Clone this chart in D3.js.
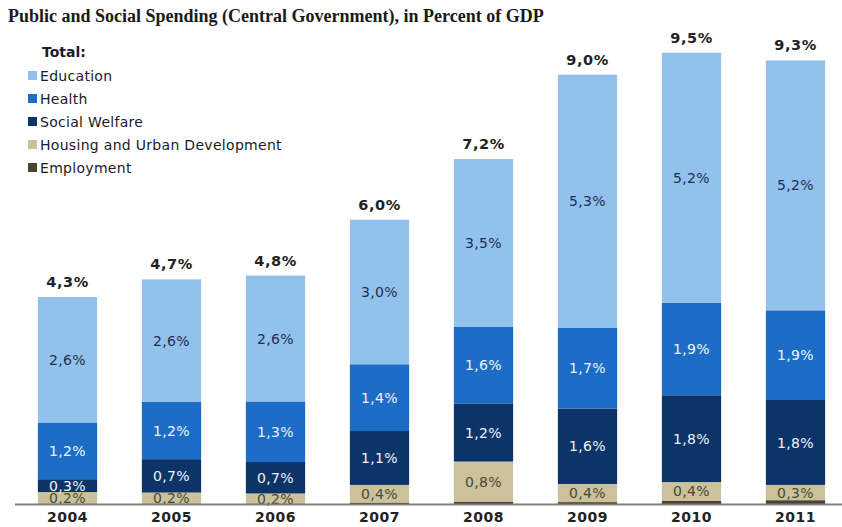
<!DOCTYPE html>
<html><head><meta charset="utf-8">
<script src="https://cdn.jsdelivr.net/npm/d3@7"></script>
<style>body{margin:0;background:#fff}svg{display:block}</style>
</head><body>
<svg id="c" width="842" height="527"></svg>
<script>
const years = ["2004","2005","2006","2007","2008","2009","2010","2011"];
const employment = [0.01, 0.01, 0.01, 0.03, 0.05, 0.04, 0.07, 0.08];
const housing    = [0.24, 0.23, 0.21, 0.37, 0.84, 0.38, 0.39, 0.32];
const welfare    = [0.27, 0.70, 0.66, 1.13, 1.21, 1.58, 1.82, 1.78];
const health     = [1.19, 1.20, 1.27, 1.40, 1.62, 1.69, 1.94, 1.88];
const education  = [2.63, 2.57, 2.64, 3.03, 3.51, 5.31, 5.24, 5.24];
const seriesNames = ["Employment","Housing and Urban Development","Social Welfare","Health","Education"];
const legendOrder = ["Education","Health","Social Welfare","Housing and Urban Development","Employment"];
const colors = {"Employment":"#4a4530","Housing and Urban Development":"#cbc19b","Social Welfare":"#0d3468","Health":"#1d6dc6","Education":"#92c1ee"};
const labelColors = {"Employment":"none","Housing and Urban Development":"#4a4a35","Social Welfare":"#eef3fb","Health":"#eef3fb","Education":"#22304f"};

const rows = years.map((y,i)=>({year:y,"Employment":employment[i],"Housing and Urban Development":housing[i],"Social Welfare":welfare[i],"Health":health[i],"Education":education[i]}));
const stacked = d3.stack().keys(seriesNames)(rows);

const svg = d3.select("#c");
const x = d3.scaleBand().domain(years).range([15.5,847.5]).paddingInner(0.43).paddingOuter(0.215);
const y = d3.scaleLinear().domain([0,10]).range([504,27]);
const fmt = v => d3.format(".1f")(v).replace(".",",")+"%";
const font = "'DejaVu Sans', Verdana, sans-serif";

svg.append("text").attr("x",8).attr("y",22)
  .attr("font-family","'Liberation Serif','Times New Roman',serif").attr("font-weight","bold")
  .attr("font-size",18).attr("fill","#1a1a1a")
  .text("Public and Social Spending (Central Government), in Percent of GDP");

const g = svg.append("g");
stacked.forEach(s=>{
  const key = s.key;
  g.selectAll(null).data(s).enter().append("rect")
    .attr("x",d=>x(d.data.year)).attr("width",x.bandwidth())
    .attr("y",d=>y(d[1])).attr("height",d=>y(d[0])-y(d[1]))
    .attr("fill",colors[key]);
});
stacked.forEach(s=>{
  const key = s.key;
  if(key!=="Employment"){
    g.selectAll(null).data(s).enter().append("text")
      .attr("x",d=>x(d.data.year)+x.bandwidth()/2)
      .attr("y",d=>(y(d[0])+y(d[1]))/2)
      .attr("dy","0.36em").attr("text-anchor","middle")
      .attr("font-family",font).attr("font-size",14).attr("letter-spacing",0.4)
      .attr("fill",labelColors[key])
      .text(d=>fmt(d[1]-d[0]));
  }
});

// totals
const topSeries = stacked[stacked.length-1];
g.selectAll(null).data(topSeries).enter().append("text")
  .attr("x",d=>x(d.data.year)+x.bandwidth()/2)
  .attr("y",d=>y(d[1])-10)
  .attr("text-anchor","middle").attr("font-family",font).attr("font-weight","bold")
  .attr("font-size",14.5).attr("letter-spacing",0.6).attr("fill","#222")
  .text(d=>fmt(d[1]));

// axis
const axis = svg.append("g").attr("transform","translate(0,504.5)")
  .call(d3.axisBottom(x).tickSize(0).tickPadding(8));
axis.select(".domain").attr("d","M15,0H842").attr("stroke","#7f7f7f").attr("stroke-width",2);
axis.selectAll("text").attr("font-family",font).attr("font-weight","bold").attr("font-size",14)
  .attr("letter-spacing",0.5).attr("fill","#222");

// legend
const lg = svg.append("g");
lg.append("text").attr("x",42).attr("y",57).attr("font-family",font).attr("font-weight","bold")
  .attr("font-size",14).attr("fill","#1a1a2a").text("Total:");
legendOrder.forEach((k,i)=>{
  const cy = 75.5 + i*23;
  lg.append("rect").attr("x",28).attr("y",cy-4.5).attr("width",9).attr("height",9).attr("fill",colors[k]);
  lg.append("text").attr("x",40).attr("y",cy).attr("dy","0.36em").attr("font-family",font)
    .attr("font-size",14).attr("letter-spacing",0.3).attr("fill","#1a1a2a").text(k);
});
</script>
</body></html>
